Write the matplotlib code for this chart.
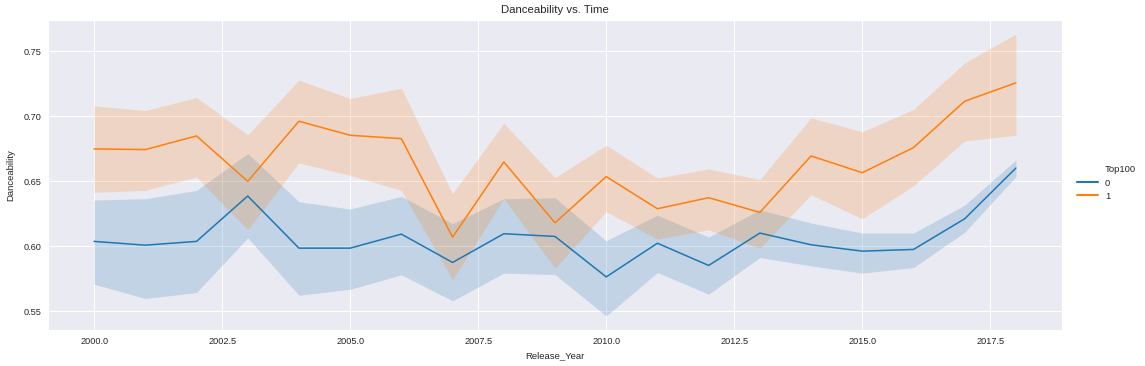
import matplotlib
matplotlib.use("Agg")
import matplotlib.pyplot as plt
from matplotlib.lines import Line2D
import seaborn as sns

years = list(range(2000, 2019))

# Top100 = 0
mean0 = [0.6037, 0.6008, 0.6037, 0.6386, 0.5985, 0.5985, 0.6093, 0.5875, 0.6096, 0.6075,
         0.5764, 0.6023, 0.5852, 0.6101, 0.6011, 0.5962, 0.5975, 0.6211, 0.6601]
low0 = [0.5708, 0.5598, 0.5644, 0.6065, 0.5623, 0.5669, 0.5780, 0.5580, 0.5793, 0.5782,
        0.5464, 0.5798, 0.5631, 0.5913, 0.5849, 0.5793, 0.5836, 0.6108, 0.6535]
high0 = [0.6355, 0.6365, 0.6429, 0.6712, 0.6342, 0.6286, 0.6383, 0.6173, 0.6365, 0.6372,
         0.6042, 0.6239, 0.6070, 0.6280, 0.6178, 0.6101, 0.6101, 0.6316, 0.6663]

# Top100 = 1
mean1 = [0.6748, 0.6743, 0.6848, 0.6499, 0.6961, 0.6853, 0.6827, 0.6070, 0.6648, 0.6180,
         0.6535, 0.6288, 0.6373, 0.6260, 0.6694, 0.6565, 0.6758, 0.7115, 0.7256]
low1 = [0.6414, 0.6429, 0.6532, 0.6126, 0.6640, 0.6545, 0.6429, 0.5741, 0.6365, 0.5831,
        0.6265, 0.6055, 0.6126, 0.5985, 0.6396, 0.6211, 0.6465, 0.6809, 0.6853]
high1 = [0.7079, 0.7043, 0.7143, 0.6856, 0.7277, 0.7135, 0.7215, 0.6404, 0.6945, 0.6527,
         0.6776, 0.6524, 0.6594, 0.6512, 0.6987, 0.6879, 0.7051, 0.7410, 0.7631]

sns.set_style("darkgrid")
plt.rcParams['font.family'] = ['Liberation Sans', 'DejaVu Sans']
plt.rcParams['grid.linewidth'] = 0.75

fig = plt.figure(figsize=(11.45, 3.66), dpi=100)
ax = fig.add_axes([48/1145, 36/366, 1014/1145, 310/366])

c0, c1 = '#1f77b4', '#ff7f0e'
ax.fill_between(years, low0, high0, color=c0, alpha=0.2, linewidth=0)
ax.fill_between(years, low1, high1, color=c1, alpha=0.2, linewidth=0)
ax.plot(years, mean0, color=c0, lw=1.1)
ax.plot(years, mean1, color=c1, lw=1.1)

ax.set_yticks([0.55, 0.60, 0.65, 0.70, 0.75])
ax.tick_params(labelsize=6.6, colors='.15', length=0, pad=5)
ax.set_xlabel('Release_Year', fontsize=6.8, color='.15', labelpad=4)
ax.set_ylabel('Danceability', fontsize=6.8, color='.15', labelpad=6)
ax.set_title('Danceability vs. Time', fontsize=8.2, color='.15', pad=5)

handles = [Line2D([], [], color='none'),
           Line2D([], [], color=c0, lw=1.5),
           Line2D([], [], color=c1, lw=1.5)]
fig.legend(handles, ['Top100', '0', '1'], loc='center left',
           bbox_to_anchor=(1068/1145, 1 - 183/366), frameon=False,
           fontsize=6.8, handlelength=2.3, handletextpad=0.7, labelspacing=0.45)

fig.savefig('out.png', dpi=100)
